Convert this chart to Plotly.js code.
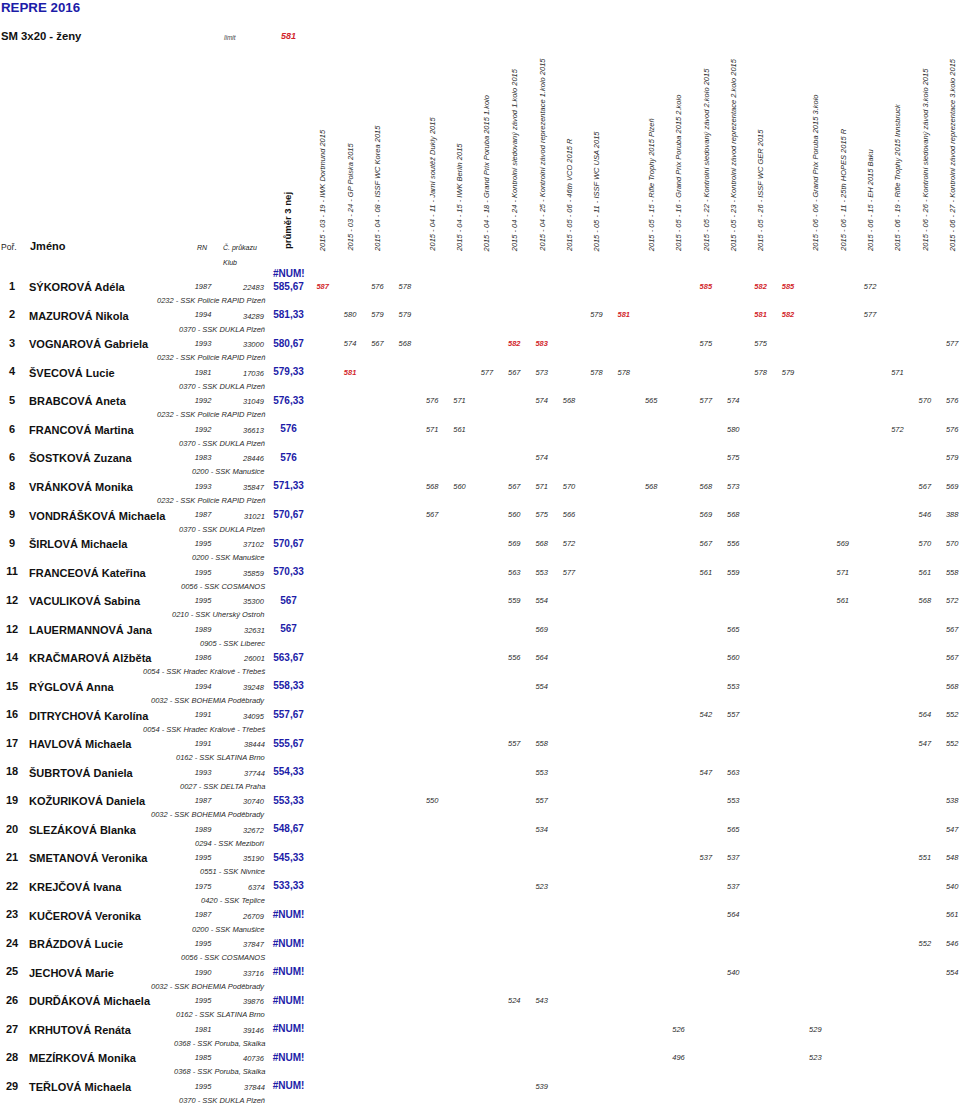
<!DOCTYPE html>
<html>
<head>
<meta charset="utf-8">
<script src="https://cdn.plot.ly/plotly-3.0.1.min.js"></script>
<style>
  html, body { margin: 0; padding: 0; background: #fff; }
  #chart { width: 960px; height: 1107px; }
</style>
</head>
<body>
<div id="chart"></div>
<script>
/* REPRE 2016 – SM 3x20 ženy, results table drawn as text marks */

// ─── Data ──────────────────────────────────────────────────────────────────
var LIMIT = 581;

var events = [
  '2015 - 03 - 19 - IWK Dortmund 2015',
  '2015 - 03 - 24 - GP Polska 2015',
  '2015 - 04 - 08 - ISSF WC Korea 2015',
  '',
  '2015 - 04 - 11 - Jarní soutěž Dukly 2015',
  '2015 - 04 - 15 - IWK Berlin 2015',
  '2015 - 04 - 18 - Grand Prix Poruba 2015 1.kolo',
  '2015 - 04 - 24 - Kontrolní sledovaný závod 1.kolo 2015',
  '2015 - 04 - 25 - Kontrolní závod reprezentace 1.kolo 2015',
  '2015 - 05 - 06 - 46th VCO 2015 R',
  '2015 - 05 - 11 - ISSF WC USA 2015',
  '',
  '2015 - 05 - 15 - Rifle Trophy 2015 Plzeň',
  '2015 - 05 - 16 - Grand Prix Poruba 2015 2.kolo',
  '2015 - 05 - 22 - Kontrolní sledovaný závod 2.kolo 2015',
  '2015 - 05 - 23 - Kontrolní závod reprezentace 2.kolo 2015',
  '2015 - 05 - 26 - ISSF WC GER 2015',
  '',
  '2015 - 06 - 06 - Grand Prix Poruba 2015 3.kolo',
  '2015 - 06 - 11 - 25th HOPES 2015 R',
  '2015 - 06 - 15 - EH 2015 Baku',
  '2015 - 06 - 19 - Rifle Trophy 2015 Innsbruck',
  '2015 - 06 - 26 - Kontrolní sledovaný závod 3.kolo 2015',
  '2015 - 06 - 27 - Kontrolní závod reprezentace 3.kolo 2015'
];

var ranks = [1, 2, 3, 4, 5, 6, 6, 8, 9, 9, 11, 12, 12, 14, 15, 16, 17, 18, 19, 20,
             21, 22, 23, 24, 25, 26, 27, 28, 29];

var names = [
  'SÝKOROVÁ Adéla', 'MAZUROVÁ Nikola', 'VOGNAROVÁ Gabriela', 'ŠVECOVÁ Lucie',
  'BRABCOVÁ Aneta', 'FRANCOVÁ Martina', 'ŠOSTKOVÁ Zuzana', 'VRÁNKOVÁ Monika',
  'VONDRÁŠKOVÁ Michaela', 'ŠIRLOVÁ Michaela', 'FRANCEOVÁ Kateřina',
  'VACULIKOVÁ Sabina', 'LAUERMANNOVÁ Jana', 'KRAČMAROVÁ Alžběta', 'RÝGLOVÁ Anna',
  'DITRYCHOVÁ Karolína', 'HAVLOVÁ Michaela', 'ŠUBRTOVÁ Daniela',
  'KOŽURIKOVÁ Daniela', 'SLEZÁKOVÁ Blanka', 'SMETANOVÁ Veronika', 'KREJČOVÁ Ivana',
  'KUČEROVÁ Veronika', 'BRÁZDOVÁ Lucie', 'JECHOVÁ Marie', 'DURĎÁKOVÁ Michaela',
  'KRHUTOVÁ Renáta', 'MEZÍRKOVÁ Monika', 'TEŘLOVÁ Michaela'
];

var years = [1987, 1994, 1993, 1981, 1992, 1992, 1983, 1993, 1987, 1995, 1995, 1995,
             1989, 1986, 1994, 1991, 1991, 1993, 1987, 1989, 1995, 1975, 1987, 1995,
             1990, 1995, 1981, 1985, 1995];

var cards = [22483, 34289, 33000, 17036, 31049, 36613, 28446, 35847, 31021, 37102,
             35859, 35300, 32631, 26001, 39248, 34095, 38444, 37744, 30740, 32672,
             35190, 6374, 26709, 37847, 33716, 39876, 39146, 40736, 37844];

var averages = ['585,67', '581,33', '580,67', '579,33', '576,33', '576', '576',
                '571,33', '570,67', '570,67', '570,33', '567', '567', '563,67',
                '558,33', '557,67', '555,67', '554,33', '553,33', '548,67', '545,33',
                '533,33', '#NUM!', '#NUM!', '#NUM!', '#NUM!', '#NUM!', '#NUM!', '#NUM!'];

var clubs = [
  '0232 - SSK Policie RAPID Plzeň', '0370 - SSK DUKLA Plzeň',
  '0232 - SSK Policie RAPID Plzeň', '0370 - SSK DUKLA Plzeň',
  '0232 - SSK Policie RAPID Plzeň', '0370 - SSK DUKLA Plzeň',
  '0200 - SSK Manušice', '0232 - SSK Policie RAPID Plzeň',
  '0370 - SSK DUKLA Plzeň', '0200 - SSK Manušice', '0056 - SSK COSMANOS',
  '0210 - SSK Uherský Ostroh', '0905 - SSK Liberec',
  '0054 - SSK Hradec Králové - Třebeš', '0032 - SSK BOHEMIA Poděbrady',
  '0054 - SSK Hradec Králové - Třebeš', '0162 - SSK SLATINA Brno',
  '0027 - SSK DELTA Praha', '0032 - SSK BOHEMIA Poděbrady', '0294 - SSK Meziboří',
  '0551 - SSK Nivnice', '0420 - SSK Teplice', '0200 - SSK Manušice',
  '0056 - SSK COSMANOS', '0032 - SSK BOHEMIA Poděbrady', '0162 - SSK SLATINA Brno',
  '0368 - SSK Poruba, Skalka', '0368 - SSK Poruba, Skalka', '0370 - SSK DUKLA Plzeň'
];

// per athlete: [event column, score]
var scores = [
  [[0, 587], [2, 576], [3, 578], [14, 585], [16, 582], [17, 585], [20, 572]],
  [[1, 580], [2, 579], [3, 579], [10, 579], [11, 581], [16, 581], [17, 582], [20, 577]],
  [[1, 574], [2, 567], [3, 568], [7, 582], [8, 583], [14, 575], [16, 575], [23, 577]],
  [[1, 581], [6, 577], [7, 567], [8, 573], [10, 578], [11, 578], [16, 578], [17, 579], [21, 571]],
  [[4, 576], [5, 571], [8, 574], [9, 568], [12, 565], [14, 577], [15, 574], [22, 570], [23, 576]],
  [[4, 571], [5, 561], [15, 580], [21, 572], [23, 576]],
  [[8, 574], [15, 575], [23, 579]],
  [[4, 568], [5, 560], [7, 567], [8, 571], [9, 570], [12, 568], [14, 568], [15, 573], [22, 567], [23, 569]],
  [[4, 567], [7, 560], [8, 575], [9, 566], [14, 569], [15, 568], [22, 546], [23, 388]],
  [[7, 569], [8, 568], [9, 572], [14, 567], [15, 556], [19, 569], [22, 570], [23, 570]],
  [[7, 563], [8, 553], [9, 577], [14, 561], [15, 559], [19, 571], [22, 561], [23, 558]],
  [[7, 559], [8, 554], [19, 561], [22, 568], [23, 572]],
  [[8, 569], [15, 565], [23, 567]],
  [[7, 556], [8, 564], [15, 560], [23, 567]],
  [[8, 554], [15, 553], [23, 568]],
  [[14, 542], [15, 557], [22, 564], [23, 552]],
  [[7, 557], [8, 558], [22, 547], [23, 552]],
  [[8, 553], [14, 547], [15, 563]],
  [[4, 550], [8, 557], [15, 553], [23, 538]],
  [[8, 534], [15, 565], [23, 547]],
  [[14, 537], [15, 537], [22, 551], [23, 548]],
  [[8, 523], [15, 537], [23, 540]],
  [[15, 564], [23, 561]],
  [[22, 552], [23, 546]],
  [[15, 540], [23, 554]],
  [[7, 524], [8, 543]],
  [[13, 526], [18, 529]],
  [[13, 496], [18, 523]],
  [[8, 539]]
];

// ─── Grid geometry (axis units: event column / athlete row) ────────────────
var W = 960, H = 1107;
var COL0 = 322.7, COLW = 27.37;   // pixel centre of first event column, step
var ROW1 = 287,   ROWH = 28.57;   // pixel centre of first athlete row, step

function cx(px) { return (px - COL0) / COLW; }
function ry(px) { return 1 + (px - ROW1) / ROWH; }

var FONT  = 'Liberation Sans, Arial, sans-serif';
var BLUE  = '#1c1ca8';
var RED   = '#d21f2b';
var INK   = '#111111';
var GREY  = '#2a2a2a';

// ─── Score marks ───────────────────────────────────────────────────────────
var normX = [], normY = [], normT = [];
var hiX = [], hiY = [], hiT = [];
scores.forEach(function (row, r) {
  row.forEach(function (s) {
    if (s[1] >= LIMIT) { hiX.push(s[0]); hiY.push(r + 1); hiT.push(String(s[1])); }
    else               { normX.push(s[0]); normY.push(r + 1); normT.push(String(s[1])); }
  });
});

var rowIdx = ranks.map(function (_, i) { return i + 1; });
function fill(v) { return rowIdx.map(function () { return v; }); }

var traces = [
  { x: normX, y: normY, text: normT, mode: 'text', textposition: 'middle center',
    textfont: { family: FONT, size: 7.5, color: GREY, style: 'italic' } },
  { x: hiX, y: hiY, text: hiT, mode: 'text', textposition: 'middle center',
    textfont: { family: FONT, size: 7.5, color: RED, style: 'italic', weight: 'bold' } },
  { x: fill(cx(12)), y: rowIdx, text: ranks.map(String), mode: 'text',
    textposition: 'middle center',
    textfont: { family: FONT, size: 11, color: INK, weight: 'bold' } },
  { x: fill(cx(203)), y: rowIdx, text: years.map(String), mode: 'text',
    textposition: 'middle center',
    textfont: { family: FONT, size: 7.5, color: GREY, style: 'italic' } },
  { x: fill(cx(288.5)), y: rowIdx, text: averages, mode: 'text',
    textposition: 'middle center',
    textfont: { family: FONT, size: 10, color: BLUE, weight: 'bold' } }
];
traces.forEach(function (t) { t.hoverinfo = 'skip'; t.showlegend = false; t.cliponaxis = false; });

// ─── Left/right aligned columns and headers (annotations) ──────────────────
var ann = [];
function note(text, xpx, ypx, anchor, size, opts) {
  var a = {
    text: text, x: cx(xpx), y: ry(ypx), xref: 'x', yref: 'y',
    xanchor: anchor, yanchor: 'middle', showarrow: false, borderpad: 0,
    font: { family: FONT, size: size, color: INK }
  };
  opts = opts || {};
  if (opts.color)  a.font.color  = opts.color;
  if (opts.weight) a.font.weight = opts.weight;
  if (opts.style)  a.font.style  = opts.style;
  if (opts.angle)  { a.textangle = opts.angle; a.yanchor = 'bottom'; }
  ann.push(a);
}

names.forEach(function (n, i) {
  var y = ROW1 + i * ROWH;
  note(n, 27.5, y, 'left', 11, { weight: 'bold' });
  note(String(cards[i]), 266, y + 0.5, 'right', 7.5, { style: 'italic', color: GREY });
  note(clubs[i], 266, y + 13.5, 'right', 7.5, { style: 'italic', color: GREY });
});

events.forEach(function (e, i) {
  if (!e) return;
  var a = {
    text: e, x: i, y: ry(253), xref: 'x', yref: 'y', textangle: -90,
    xanchor: 'center', yanchor: 'bottom', showarrow: false, borderpad: 0,
    font: { family: FONT, size: 7.5, color: GREY, style: 'italic' }
  };
  ann.push(a);
});

// title block
note('REPRE 2016', 0, 7, 'left', 13.3, { weight: 'bold', color: BLUE });
note('SM 3x20 - ženy', 0, 36, 'left', 11.3, { weight: 'bold' });
note('limit', 223, 37, 'left', 6.5, { style: 'italic', color: '#444' });
note(String(LIMIT), 288.5, 36, 'center', 9, { weight: 'bold', style: 'italic', color: RED });

// column headings
note('Poř.', 0, 246.5, 'left', 8.5, { color: '#222' });
note('Jméno', 29, 245.5, 'left', 11, { weight: 'bold' });
note('RN', 202.5, 247, 'center', 7, { style: 'italic', color: '#222' });
note('Č. průkazu', 222, 247, 'left', 7, { style: 'italic', color: '#222' });
note('Klub', 222, 262, 'left', 7, { style: 'italic', color: '#222' });
note('#NUM!', 288.5, 273, 'center', 10, { weight: 'bold', color: BLUE });
ann.push({
  text: 'průměr 3 nej', x: cx(287), y: ry(250.5), xref: 'x', yref: 'y', textangle: -90,
  xanchor: 'center', yanchor: 'bottom', showarrow: false, borderpad: 0,
  font: { family: FONT, size: 9.5, color: INK, weight: 'bold' }
});

// ─── Layout ────────────────────────────────────────────────────────────────
var layout = {
  width: W, height: H,
  margin: { l: 0, r: 0, t: 0, b: 0, pad: 0 },
  paper_bgcolor: '#ffffff', plot_bgcolor: '#ffffff',
  xaxis: { range: [cx(0), cx(W)], visible: false, fixedrange: true },
  yaxis: { range: [ry(H), ry(0)], visible: false, fixedrange: true },
  annotations: ann,
  showlegend: false
};

Plotly.newPlot('chart', traces, layout, { staticPlot: true, displayModeBar: false });
</script>
</body>
</html>
